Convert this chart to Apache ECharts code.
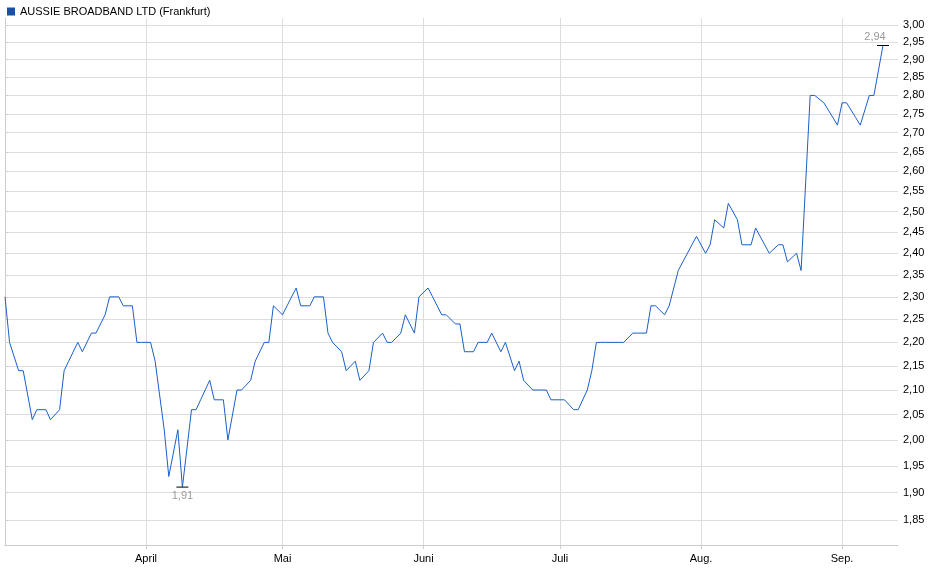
<!DOCTYPE html>
<html><head><meta charset="utf-8">
<script src="https://cdn.jsdelivr.net/npm/echarts@6/dist/echarts.min.js"></script>
<style>html,body{margin:0;padding:0;background:#fff}#c{width:940px;height:579px}</style>
</head><body><div id="c"></div>
<script>
var seriesName = 'AUSSIE BROADBAND LTD (Frankfurt)';
// days since 2024-03-01
var dayOffsets = [0,1,3,4,6,7,9,10,12,13,14,16,17,19,20,22,23,25,26,28,29,30,32,33,35,36,38,39,41,42,43,45,46,48,49,51,52,54,55,57,58,59,61,62,64,65,67,68,70,71,72,74,75,77,78,80,81,83,84,85,87,88,90,91,93,94,96,97,99,100,101,103,104,106,107,109,110,112,113,114,116,117,119,120,122,123,125,126,128,129,130,132,133,135,136,138,139,141,142,143,145,146,148,149,151,152,154,155,156,158,159,161,162,164,165,167,168,170,171,172,174,175,177,178,180,181,183,184,185,187,188,190,191,193,194,196];
var prices = [2.30,2.20,2.14,2.14,2.04,2.06,2.06,2.04,2.06,2.14,2.16,2.20,2.18,2.22,2.22,2.26,2.30,2.30,2.28,2.28,2.20,2.20,2.20,2.16,2.02,1.93,2.02,1.91,2.06,2.06,2.08,2.12,2.08,2.08,2.00,2.10,2.10,2.12,2.16,2.20,2.20,2.28,2.26,2.28,2.32,2.28,2.28,2.30,2.30,2.22,2.20,2.18,2.14,2.16,2.12,2.14,2.20,2.22,2.20,2.20,2.22,2.26,2.22,2.30,2.32,2.30,2.26,2.26,2.24,2.24,2.18,2.18,2.20,2.20,2.22,2.18,2.20,2.14,2.16,2.12,2.10,2.10,2.10,2.08,2.08,2.08,2.06,2.06,2.10,2.14,2.20,2.20,2.20,2.20,2.20,2.22,2.22,2.22,2.28,2.28,2.26,2.28,2.36,2.38,2.42,2.44,2.40,2.42,2.48,2.46,2.52,2.48,2.42,2.42,2.46,2.42,2.40,2.42,2.42,2.38,2.40,2.36,2.80,2.80,2.78,2.76,2.72,2.78,2.78,2.74,2.72,2.80,2.80,2.94];
var yTicks = [1.85,1.90,1.95,2.00,2.05,2.10,2.15,2.20,2.25,2.30,2.35,2.40,2.45,2.50,2.55,2.60,2.65,2.70,2.75,2.80,2.85,2.90,2.95,3.00];
var monthDays = [31,61,92,122,153,184];
var monthLabels = ['April','Mai','Juni','Juli','Aug.','Sep.'];

var n = Math.min(dayOffsets.length, prices.length);
var data = [];
for (var i = 0; i < n; i++) data.push([dayOffsets[i], prices[i]]);
var minI = 0, maxI = 0;
for (var j = 0; j < n; j++) { if (data[j][1] < data[minI][1]) minI = j; if (data[j][1] > data[maxI][1]) maxI = j; }
function fmt(v) { return v.toFixed(2).replace('.', ','); }

var chart = echarts.init(document.getElementById('c'));
chart.setOption({
  animation: false,
  textStyle: { fontFamily: 'Liberation Sans, Arial, sans-serif' },
  legend: { left: 2, top: 1, itemWidth: 8, itemHeight: 8, itemGap: 4, icon: 'rect',
    textStyle: { fontSize: 11, color: '#000' }, data: [seriesName] },
  grid: { left: 5, right: 42, top: 18, bottom: 34 },
  xAxis: {
    type: 'value', min: 0, max: 196.3,
    axisLine: { show: true, lineStyle: { color: '#ccc' } },
    axisTick: { show: true, customValues: monthDays, length: 4, lineStyle: { color: '#ccc' } },
    axisLabel: { customValues: monthDays, color: '#000', fontSize: 11, margin: 8,
      formatter: function (v) { var k = monthDays.indexOf(v); return k >= 0 ? monthLabels[k] : ''; } },
    splitLine: { show: true, lineStyle: { color: '#ddd', width: 1 } }
  },
  yAxis: {
    type: 'log', logBase: 10, min: 1.805, max: 3.02, position: 'right',
    axisLine: { show: true, lineStyle: { color: '#ccc' } },
    axisTick: { show: true, customValues: yTicks, length: 3, lineStyle: { color: '#ccc' } },
    axisLabel: { customValues: yTicks, color: '#000', fontSize: 11, margin: 5, formatter: fmt },
    splitLine: { show: true, lineStyle: { color: '#ddd', width: 1 } }
  },
  series: [{
    name: seriesName, type: 'line', data: data, symbol: 'none',
    lineStyle: { color: '#1a5fc8', width: 1 }, itemStyle: { color: '#1a4fa8', borderColor: '#000' },
    markPoint: {
      symbol: 'rect', symbolSize: [12, 1], itemStyle: { color: '#000' },
      data: [
        { coord: data[minI], label: { show: true, position: 'bottom', distance: 3, formatter: fmt(data[minI][1]), color: '#999', fontSize: 11 } },
        { coord: data[maxI], label: { show: true, position: 'top', offset: [-8, 0], distance: 3, formatter: fmt(data[maxI][1]), color: '#999', fontSize: 11 } }
      ]
    }
  }]
});
</script></body></html>
